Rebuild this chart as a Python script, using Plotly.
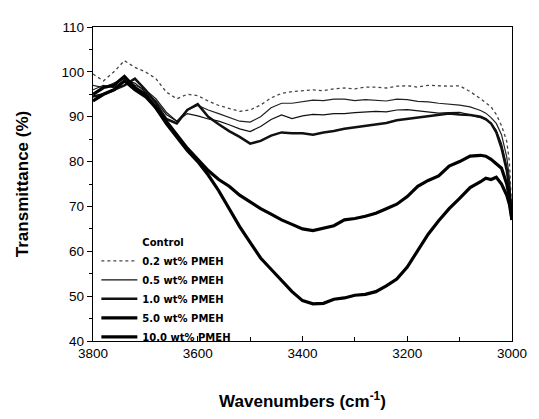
import plotly.graph_objects as go

wavenumbers = [3800, 3780, 3760, 3740, 3720, 3700, 3680, 3660, 3640, 3620, 3600, 3580, 3560, 3540,
               3520, 3500, 3480, 3460, 3440, 3420, 3400, 3380, 3360, 3340, 3320, 3300, 3280, 3260,
               3240, 3220, 3200, 3180, 3160, 3140, 3120, 3100, 3080, 3060, 3050, 3040, 3030, 3020,
               3010, 3005, 3000]

control = [97, 96.5, 97.5, 98.5, 97, 96, 94, 91, 89, 91.5, 92.5, 91.5, 90.7, 89.8, 89, 88.8, 90, 92,
           93, 93, 93.4, 93.7, 93.6, 93.9, 93.9, 93.6, 93.8, 93.7, 93.5, 93.9, 93.8, 93.4, 93.3, 93,
           92.8, 92.6, 92.2, 91.4, 90.8, 89.8, 88.5, 86, 81, 76.5, 67]
pmeh_02 = [99.5, 98, 100, 102.5, 101, 100, 98.5, 95.5, 94, 95, 94.7, 93.5, 92.5, 91.8, 91.2, 91.5,
           92.6, 94.2, 95.2, 95.6, 95.8, 96, 95.8, 96.2, 96.4, 96.2, 96.6, 96.6, 96.4, 96.8, 96.9,
           96.6, 97, 96.9, 96.8, 96.9, 95.6, 94, 93, 92.2, 90.5, 88, 84.5, 80, 68]
pmeh_05 = [96, 97, 96.5, 98, 97.5, 95.5, 93.5, 90.5, 89, 90.7, 90.2, 89.5, 89, 88.2, 87.3, 86.7, 87.8,
           89.4, 90.4, 89.6, 90.2, 90.5, 90.4, 90.7, 90.7, 90.9, 91, 91.2, 91.1, 91.5, 91.6, 91.3,
           91.1, 90.8, 90.9, 91, 90.4, 89.8, 89.3, 88.6, 87, 84, 79, 75, 67]
pmeh_10 = [94.5, 95, 96, 97, 98.5, 96, 93, 89.5, 88.5, 91.5, 92.8, 90, 88.3, 86.8, 85.5, 84, 84.6,
           85.8, 86.5, 86.3, 86.3, 86, 86.5, 86.8, 87.3, 87.6, 88, 88.3, 88.6, 89.2, 89.5, 89.8, 90,
           90.3, 90.7, 90.5, 90.4, 90, 89.5, 88.5, 86.5, 83, 78, 74, 67]
pmeh_50 = [95, 96.5, 97, 99, 96.5, 95, 92, 89, 86, 83, 80.5, 78, 76, 74.5, 72.5, 71, 69.5, 68.3, 67,
           66, 65, 64.6, 65.2, 65.7, 67, 67.3, 67.8, 68.5, 69.5, 70.5, 72.2, 74.5, 75.8, 76.8, 79,
           80, 81.2, 81.4, 81.2, 80.5, 79.5, 78.5, 75, 72, 67]
pmeh_100 = [93.5, 95, 96, 98, 96, 94.5, 92, 88.5, 85.5, 82.5, 80, 77, 73.5, 69.5, 65.5, 62, 58.5, 56,
            53.5, 51, 49, 48.3, 48.4, 49.3, 49.6, 50.2, 50.4, 51, 52.3, 53.8, 56.5, 60.2, 63.8, 66.8,
            69.5, 71.8, 74.2, 75.5, 76.3, 76, 76.5, 75, 72.5, 70.5, 67]

series_names = ["Control", "0.2 wt% PMEH", "0.5 wt% PMEH", "1.0 wt% PMEH", "5.0 wt% PMEH", "10.0 wt% PMEH"]
series_values = [control, pmeh_02, pmeh_05, pmeh_10, pmeh_50, pmeh_100]
styles = [
    dict(color="#222222", width=1.2, dash="solid"),
    dict(color="#444444", width=1.3, dash="dot"),
    dict(color="#111111", width=1.2, dash="solid"),
    dict(color="#111111", width=2.5, dash="solid"),
    dict(color="#000000", width=3.2, dash="solid"),
    dict(color="#000000", width=3.2, dash="solid"),
]

fig = go.Figure()
for i, (name, vals) in enumerate(zip(series_names, series_values)):
    is_control = (i == 0)
    fig.add_trace(go.Scatter(x=wavenumbers, y=vals, mode="lines", name=name,
                             line=styles[i], showlegend=not is_control, legendrank=i + 2))
    if is_control:
        # legend entry for Control shows no line sample (as in the reference)
        fig.add_trace(go.Scatter(x=[None], y=[None], mode="lines", name=name,
                                 line=dict(color="rgba(0,0,0,0)", width=1), legendrank=1))

axis_font = dict(family="Liberation Sans, Arial, sans-serif", size=13.5, color="black")
fig.update_layout(
    width=531, height=411,
    margin=dict(l=85, r=23, t=13, b=68),
    plot_bgcolor="white", paper_bgcolor="white",
    font=axis_font,
    legend=dict(x=0.008, y=0.362, xanchor="left", yanchor="top",
                bgcolor="rgba(0,0,0,0)",
                font=dict(size=10, family="DejaVu Sans, Liberation Sans, Arial", color="black", weight="bold"),
                tracegroupgap=0, itemwidth=36, traceorder="normal"),
    xaxis=dict(range=[3800, 3000], tickvals=[3800, 3600, 3400, 3200, 3000], showgrid=False, zeroline=False,
               showline=True, linecolor="black", linewidth=1.3, mirror=True,
               ticks="inside", ticklen=5, tickcolor="black",
               minor=dict(dtick=100, ticks="inside", ticklen=4, tickcolor="black"),
               title=dict(text="Wavenumbers (cm<sup>-1</sup>)", font=dict(size=17, weight="bold"), standoff=34)),
    yaxis=dict(range=[40, 110], dtick=10, showgrid=False, zeroline=False,
               showline=True, linecolor="black", linewidth=1.3, mirror=True,
               ticks="outside", ticklen=5, tickcolor="black",
               minor=dict(dtick=5, ticks="outside", ticklen=3, tickcolor="black"),
               title=dict(text="Transmittance (%)", font=dict(size=17, weight="bold"), standoff=28)),
)

fig.write_html("out.html")
